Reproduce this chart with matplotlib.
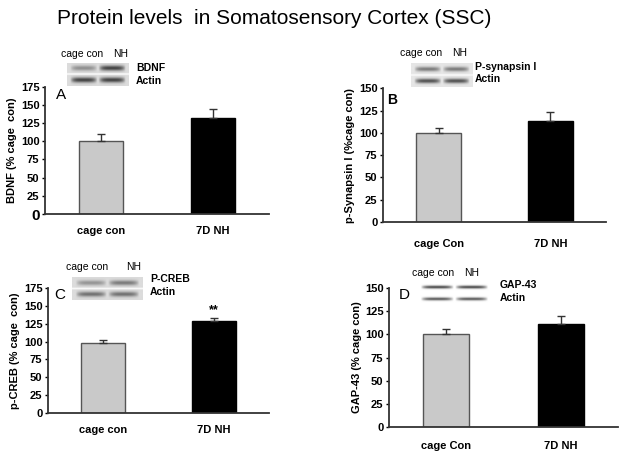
import numpy as np
import matplotlib
matplotlib.use("Agg")
import matplotlib.pyplot as plt

plt.rcParams['font.family'] = ['Liberation Sans', 'DejaVu Sans']

# ---- data ----
title = "Protein levels  in Somatosensory Cortex (SSC)"
groups_A = ["cage con", "7D NH"]
means_A = [100, 132]
errs_A = [10, 12]
ylabel_A = "BDNF (% cage  con)"

groups_B = ["cage Con", "7D NH"]
means_B = [100, 113]
errs_B = [5, 10]
ylabel_B = "p-Synapsin I (%cage con)"

groups_C = ["cage con", "7D NH"]
means_C = [98, 129]
errs_C = [4, 4]
ylabel_C = "p-CREB (% cage  con)"

groups_D = ["cage Con", "7D NH"]
means_D = [100, 111]
errs_D = [6, 9]
ylabel_D = "GAP-43 (% cage con)"

yticks_175 = [0, 25, 50, 75, 100, 125, 150, 175]
yticks_150 = [0, 25, 50, 75, 100, 125, 150]

W, H = 625, 455
fig = plt.figure(figsize=(W / 100, H / 100), dpi=100)
fig.patch.set_facecolor('white')

def add_ax(x0, x1, ytop, ybot):
    return fig.add_axes([x0 / W, 1 - ybot / H, (x1 - x0) / W, (ybot - ytop) / H])

bar_colors = ['#c9c9c9', '#000000']

def panel(rect, groups, means, errs, ylabel, yticks, ymax, label, label_bold,
          ylab_px, xtick_px, label_xy, star=None):
    x0, x1, ytop, ybot = rect
    ax = add_ax(x0, x1, ytop, ybot)
    xs = np.arange(len(groups))
    ax.bar(xs, means, width=0.4, color=bar_colors, edgecolor=['#555555', '#000000'],
           linewidth=1.0, zorder=2)
    ax.errorbar(xs, means, yerr=[np.zeros(len(errs)), errs], fmt='none',
                ecolor='#333333', elinewidth=1.0, capsize=3, capthick=1.0, zorder=3)
    ax.set_xlim(-0.5, 1.5)
    ax.set_ylim(0, ymax)
    ax.set_yticks(yticks)
    ax.set_yticklabels([str(t) for t in yticks], fontsize=8, fontweight='bold')
    ax.set_xticks(xs)
    ax.set_xticklabels(groups, fontsize=8, fontweight='bold')
    ax.tick_params(axis='x', length=0, pad=(xtick_px - ybot) - 6)
    ax.tick_params(axis='y', length=2.5, width=1, pad=1.5, direction='out')
    for s in ['top', 'right']:
        ax.spines[s].set_visible(False)
    for s in ['left', 'bottom']:
        ax.spines[s].set_linewidth(1.3)
        ax.spines[s].set_color('#333333')
    ax.set_ylabel(ylabel, fontsize=8, fontweight='bold')
    ax.yaxis.set_label_coords((ylab_px + 5 - x0) / (x1 - x0), 0.5)
    ax.patch.set_alpha(0)
    fig.text(label_xy[0] / W, 1 - label_xy[1] / H, label,
             fontsize=11 if not label_bold else 10,
             fontweight='bold' if label_bold else 'normal', va='center', ha='left')
    if star is not None:
        ax.text(1, means[1] + errs[1] + 3, star, ha='center', va='bottom',
                fontsize=9, fontweight='bold')
    return ax

axA = panel((45, 269, 86.7, 214), groups_A, means_A, errs_A, ylabel_A, yticks_175, 175,
            "A", False, 12, 229, (56, 95))
axA.get_yticklabels()[0].set_fontsize(11)
axB = panel((383, 606, 88.3, 222), groups_B, means_B, errs_B, ylabel_B, yticks_150, 150,
            "B", True, 350, 240, (387, 100))
axC = panel((48, 269, 287.7, 413.3), groups_C, means_C, errs_C, ylabel_C, yticks_175, 175,
            "C", False, 15, 428, (54, 295), star="**")
axD = panel((389, 618, 288.3, 426.7), groups_D, means_D, errs_D, ylabel_D, yticks_150, 150,
            "D", False, 357, 443, (399, 295))

# ---- western blot insets (decorative) ----
def blot(x0, x1, ytop, ybot, bg, bands, band_w=0.22, white_bg=False):
    ax = add_ax(x0, x1, ytop, ybot)
    nr, nc = 80, 200
    yy = np.linspace(0, 1, nr)[:, None]
    xx = np.linspace(0, 1, nc)[None, :]
    img = np.full((nr, nc), bg)
    strip_centers = [0.25, 0.75]
    lane_centers = [0.27, 0.73]
    for si, sc in enumerate(strip_centers):
        for li, lc in enumerate(lane_centers):
            d = bands[si][li]
            prof_y = np.exp(-((yy - sc) / (band_w / 2.2)) ** 2 * 2)
            prof_x = np.clip(1 - (np.abs(xx - lc) / 0.22) ** 4, 0, 1)
            img = img - d * prof_y * prof_x
    if not white_bg:
        gap = (np.abs(yy - 0.5) < 0.035)
        img = np.where(gap, 0.97, img) * np.ones_like(img)
    ax.imshow(np.clip(img, 0, 1), cmap='gray', vmin=0, vmax=1, aspect='auto',
              interpolation='bilinear')
    ax.axis('off')
    return ax

blot(67, 129, 63, 86.5, 0.86, [[0.3, 0.6], [0.6, 0.6]], band_w=0.34)
blot(411, 473, 63, 87, 0.9, [[0.42, 0.42], [0.58, 0.58]], band_w=0.3)
blot(72, 143, 277, 300, 0.86, [[0.28, 0.38], [0.42, 0.42]], band_w=0.34)
blot(417, 492, 281, 305, 1.0, [[0.72, 0.72], [0.66, 0.66]], band_w=0.2, white_bg=True)

def t(x, y, s, size=7.5, bold=False):
    fig.text(x / W, 1 - y / H, s, fontsize=size, fontweight='bold' if bold else 'normal',
             va='center', ha='left')

# blot labels
t(61, 54, "cage con"); t(113, 54, "NH")
t(136, 68, "BDNF", bold=True); t(136, 81, "Actin", bold=True)
t(400, 53, "cage con"); t(452, 53, "NH")
t(475, 67, "P-synapsin I", bold=True); t(475, 79, "Actin", bold=True)
t(66, 267, "cage con"); t(126, 267, "NH")
t(150, 279, "P-CREB", bold=True); t(150, 292, "Actin", bold=True)
t(412, 273, "cage con"); t(464, 273, "NH")
t(500, 285, "GAP-43", bold=True); t(500, 298, "Actin", bold=True)

fig.text(57 / W, 1 - 24 / H, title, fontsize=15, va='baseline', ha='left')

fig.savefig("out.png", dpi=100, facecolor='white')
